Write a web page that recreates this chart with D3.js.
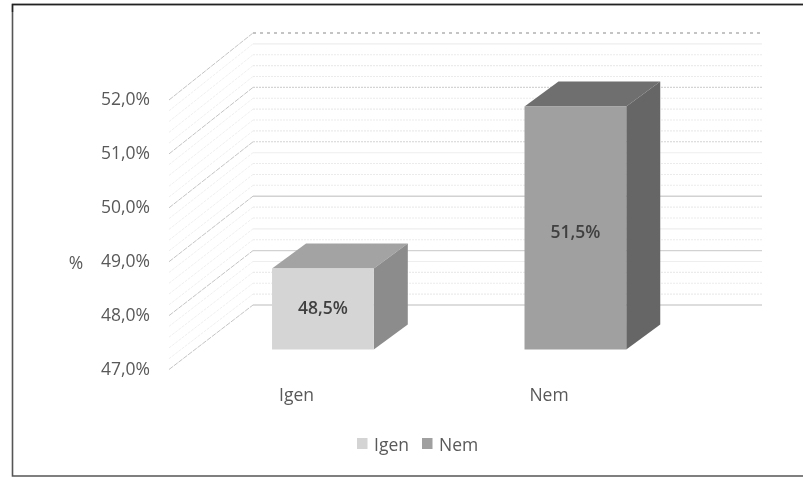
<!DOCTYPE html>
<html><head><meta charset="utf-8">
<script src="https://cdn.jsdelivr.net/npm/d3@7"></script>
<style>html,body{margin:0;padding:0;background:#fff}svg{display:block;filter:blur(0.35px)}text{font-family:"Open Sans",sans-serif}</style>
</head><body><svg id="c" width="803" height="477"></svg>
<script>
const categories = ["Igen","Nem"];
const values = [48.5,51.5];
const valueLabels = ["48,5%","51,5%"];
const tickLabels = ["47,0%","48,0%","49,0%","50,0%","51,0%","52,0%"];
const tickValues = [47,48,49,50,51,52];
const frontColors = ["#d5d5d5","#a0a0a0"];
const topColors = ["#a3a3a3","#6f6f6f"];
const sideColors = ["#8c8c8c","#666666"];
const legendColors = ["#d4d4d4","#a0a0a0"];

const svg = d3.select("#c");
svg.append("path").attr("d","M803,4.5H12.5V476H803").attr("fill","none").attr("stroke","#555").attr("stroke-width",1.6);
svg.append("path").attr("d","M803,4.5H12.5V12").attr("fill","none").attr("stroke","#222").attr("stroke-width",1.4);

const yFront = d3.scaleLinear().domain([47,52]).range([369.5,100]);
const yBack  = d3.scaleLinear().domain([47,52]).range([305,33]);
const yBar   = d3.scaleLinear().domain([47,52]).range([349.5,79.5]);
const xFront = 169, xBack = 253, xRight = 762;
const dx = 34, dy = -25;
const xBar = d3.scaleBand().domain(categories).range([246.8,651.5]).paddingInner(0.597).paddingOuter(0.1);

const dashedSteps = [1,2,3,6,8,9,11,12,13,16,17,18,19,21,22,23];
const grid = svg.append("g");
d3.range(0,26).map(i=>47+i*0.2).forEach((v,i)=>{
  const major = i%5===0;
  const wavy = dashedSteps.includes(i) || i===15 || i===20;
  const dotted = i===25;
  const strong = major && !wavy;
  grid.append("path").attr("d",d3.line()([[xFront,yFront(v)],[xBack,yBack(v)]])).attr("fill","none")
    .attr("stroke",major?"#c4c4c4":"#efefef").attr("stroke-width",1)
    .attr("stroke-dasharray",major?"5 1":"3 1");
  grid.append("path").attr("d",d3.line()([[xBack,yBack(v)],[xRight,yBack(v)]])).attr("fill","none")
    .attr("stroke",dotted?"#c4c4c4":strong?"#d2d2d2":wavy?(major?"#d4d4d4":"#ebebeb"):"#eeeeee")
    .attr("stroke-width",dotted?2:strong?1.4:1.1)
    .attr("stroke-dasharray",dotted?"3 4":wavy?"2 1":null);
});

svg.append("g").selectAll("text").data(tickValues).join("text")
  .attr("x",150).attr("y",d=>yFront(d)+0.5).attr("text-anchor","end").attr("dominant-baseline","middle")
  .attr("font-size",17.5).attr("fill","#595959").text((d,i)=>tickLabels[i]);

svg.append("text").attr("x",76).attr("y",264).attr("text-anchor","middle").attr("dominant-baseline","middle")
  .attr("font-size",17.5).attr("fill","#595959").text("%");

const labelShift = [0,5];
const bars = svg.append("g").selectAll("g").data(categories).join("g");
bars.each(function(c,i){
  const g = d3.select(this), x0 = xBar(c), x1 = x0+xBar.bandwidth();
  const t = yBar(values[i]), b = yBar(47);
  const poly = p=>d3.line()(p)+"Z";
  g.append("path").attr("d",poly([[x0,t],[x0+dx,t+dy],[x1+dx,t+dy],[x1,t]])).attr("fill",topColors[i]);
  g.append("path").attr("d",poly([[x1,t],[x1+dx,t+dy],[x1+dx,b+dy],[x1,b]])).attr("fill",sideColors[i]);
  g.append("path").attr("d",poly([[x0,t],[x1,t],[x1,b],[x0,b]])).attr("fill",frontColors[i]);
  g.append("text").attr("x",(x0+x1)/2).attr("y",(t+b)/2+labelShift[i]).attr("text-anchor","middle").attr("dominant-baseline","middle")
    .attr("font-size",17.5).attr("font-weight",600).attr("fill","#404040").text(valueLabels[i]);
  g.append("text").attr("x",x0+24.5).attr("y",396).attr("text-anchor","middle").attr("dominant-baseline","middle")
    .attr("font-size",17.5).attr("fill","#595959").text(c);
});

const lx = d3.scaleOrdinal().domain(categories).range([357,422]);
const leg = svg.append("g").selectAll("g").data(categories).join("g");
leg.append("rect").attr("x",d=>lx(d)).attr("y",438).attr("width",10.5).attr("height",11)
  .attr("fill",(d,i)=>legendColors[i]);
leg.append("text").attr("x",d=>lx(d)+17).attr("y",446).attr("dominant-baseline","middle")
  .attr("font-size",17.5).attr("fill","#595959").text(d=>d);
</script></body></html>
